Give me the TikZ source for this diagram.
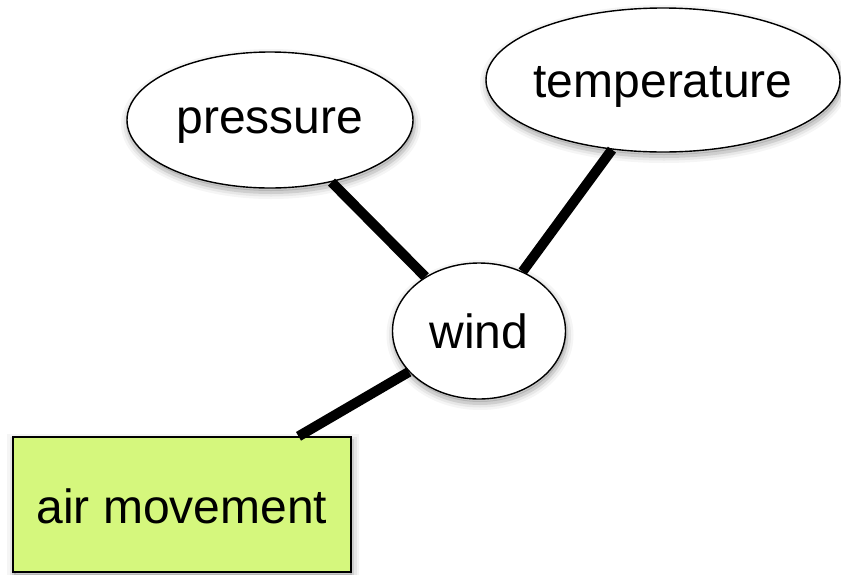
\documentclass[tikz,border=0pt]{standalone}
\usepackage{fontspec}
\setmainfont{Liberation Sans}
\usetikzlibrary{shapes.geometric,shadows}
\definecolor{boxgreen}{RGB}{213,247,125}
\tikzset{
  % layered strokes give a soft, blurred-looking drop shadow
  softshadow/.style={
    general shadow={shadow xshift=1pt, shadow yshift=-4pt, draw=black, line width=14pt, draw opacity=0.04, fill opacity=0},
    general shadow={shadow xshift=1pt, shadow yshift=-4pt, draw=black, line width=9pt, draw opacity=0.06, fill opacity=0},
    general shadow={shadow xshift=1pt, shadow yshift=-4pt, draw=black, line width=4pt, draw opacity=0.10, fill opacity=0},
    general shadow={shadow xshift=1pt, shadow yshift=-3pt, fill=black, opacity=0.12}
  },
  concept/.style={ellipse, draw=black, line width=1.4pt, fill=white, softshadow,
    font=\fontsize{48}{58}\selectfont, inner sep=0pt, text depth=0pt},
  result/.style={rectangle, draw=black, line width=1.4pt, fill=boxgreen, softshadow,
    font=\fontsize{48}{58}\selectfont, inner sep=0pt, text depth=0pt},
  link/.style={line width=10pt, black}
}
\newcommand{\ctext}[1]{\makebox[0pt]{#1}}
\begin{document}
\begin{tikzpicture}[x=1pt, y=-1pt]
  \useasboundingbox (0,0) rectangle (841,574);
  % concept ellipses
  \node[concept, minimum width=286pt, minimum height=136pt, text height=26pt] (pressure) at (270,120) {\ctext{pressure}};
  \node[concept, minimum width=354pt, minimum height=144pt, text height=34pt] (temperature) at (663,80) {\ctext{temperature}};
  \node[concept, minimum width=173pt, minimum height=136pt, text height=34pt] (wind) at (479,331) {\ctext{wind}};
  % outcome box
  \node[result, minimum width=338pt, minimum height=135pt, text height=37pt] (air) at (182,504.5) {\ctext{air movement}};
  % connectors
  \draw[link] (pressure) -- (wind);
  \draw[link] (temperature) -- (wind);
  \draw[link] (wind) -- (air);
\end{tikzpicture}
\end{document}
